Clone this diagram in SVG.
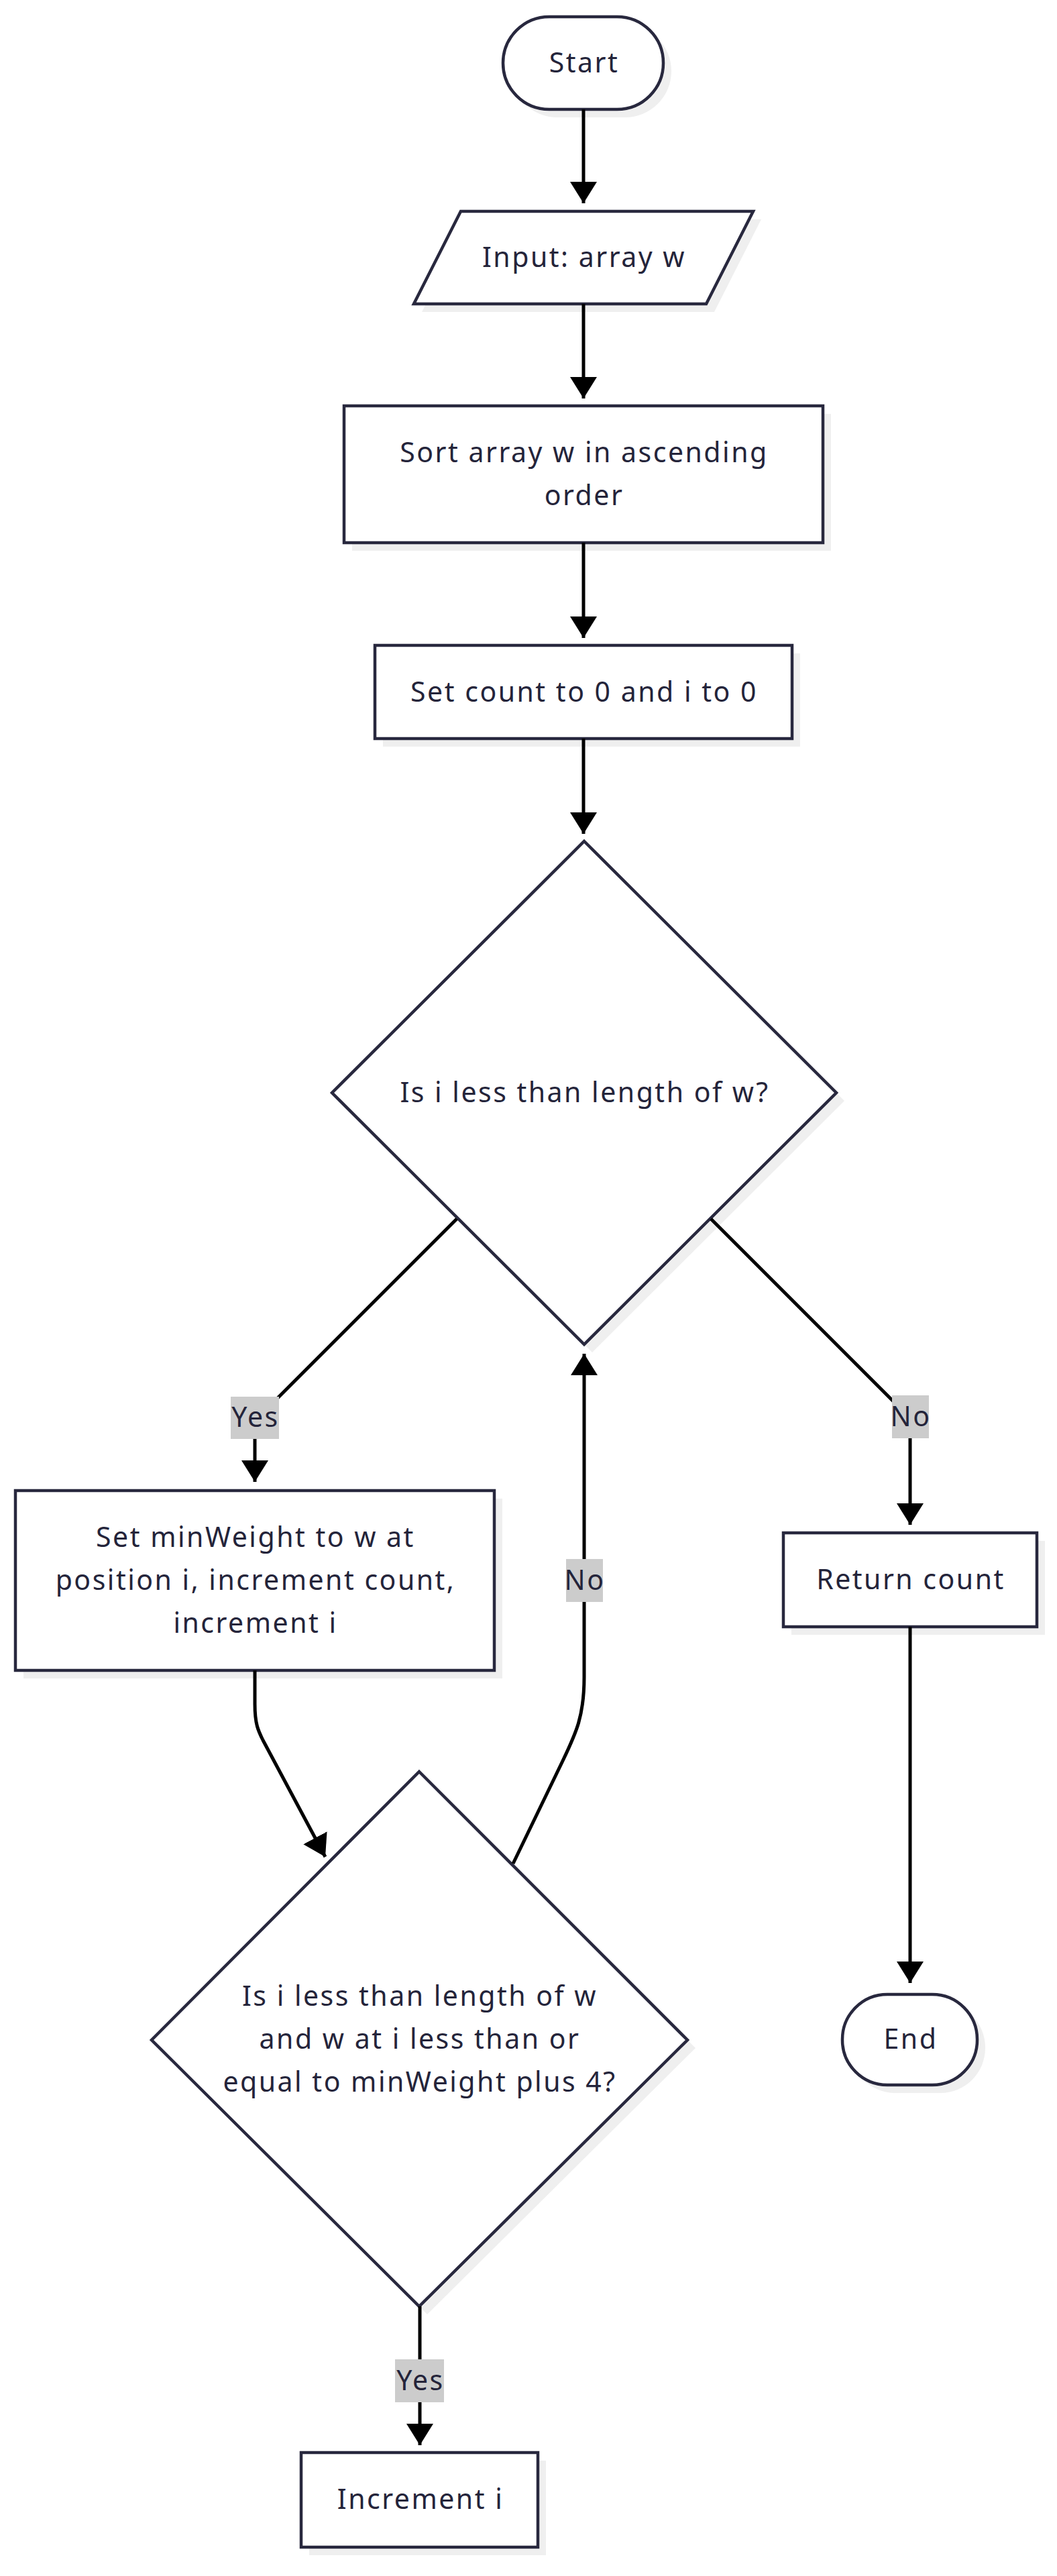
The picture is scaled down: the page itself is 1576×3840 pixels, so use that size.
<svg xmlns="http://www.w3.org/2000/svg" width="1576" height="3840" viewBox="0 0 1576 3840">
<style>
.bg{fill:#ffffff}
.shadow{fill:#efefef;stroke:none}
.node{fill:#ffffff;stroke:#28283e;stroke-width:4.5}
.t{font-family:"Noto Sans","DejaVu Sans",sans-serif;font-size:41px;letter-spacing:2.5px;fill:#24243a;text-anchor:middle}
.edge{fill:none;stroke:#000000;stroke-width:5}
.lbl{fill:#cccccc;stroke:none}
</style>
<defs>
<marker id="arrow" markerUnits="userSpaceOnUse" markerWidth="32" markerHeight="40" viewBox="0 0 32 40" refX="32" refY="20" orient="auto">
<path d="M0,0 L32,20 L0,40 z" fill="#000000"/>
</marker>
</defs>
<rect class="bg" x="0" y="0" width="1576" height="3840"/>

<g id="start">
<rect class="shadow" x="762" y="37" width="239" height="138" rx="69"/>
<rect class="node" x="750" y="25" width="239" height="138" rx="69"/>
<text class="t" x="871" y="108">Start</text>
</g>

<g id="input">
<polygon class="shadow" points="699,327 1135,327 1065,465 629,465"/>
<polygon class="node" points="687,315 1123,315 1053,453 617,453"/>
<text class="t" x="871" y="398">Input: array w</text>
</g>

<g id="sort">
<rect class="shadow" x="525" y="617" width="714" height="204"/>
<rect class="node" x="513" y="605" width="714" height="204"/>
<text class="t" x="871" y="689">Sort array w in ascending</text>
<text class="t" x="871" y="753">order</text>
</g>

<g id="init">
<rect class="shadow" x="571" y="974" width="622" height="139"/>
<rect class="node" x="559" y="962" width="622" height="139"/>
<text class="t" x="871" y="1046">Set count to 0 and i to 0</text>
</g>

<g id="decision1">
<polygon class="shadow" points="883,1266 1259,1641 883,2016 507,1641"/>
<polygon class="node" points="871,1254 1247,1629 871,2004 495,1629"/>
<text class="t" x="872" y="1643">Is i less than length of w?</text>
</g>

<g id="setmin">
<rect class="shadow" x="35" y="2234" width="714" height="268"/>
<rect class="node" x="23" y="2222" width="714" height="268"/>
<text class="t" x="381" y="2306">Set minWeight to w at</text>
<text class="t" x="381" y="2370">position i, increment count,</text>
<text class="t" x="381" y="2434">increment i</text>
</g>

<g id="return">
<rect class="shadow" x="1180" y="2297" width="378" height="140"/>
<rect class="node" x="1168" y="2285" width="378" height="140"/>
<text class="t" x="1358" y="2369">Return count</text>
</g>

<g id="end">
<rect class="shadow" x="1268" y="2985" width="201" height="135" rx="67"/>
<rect class="node" x="1256" y="2973" width="201" height="135" rx="67"/>
<text class="t" x="1358" y="3054">End</text>
</g>

<g id="decision2">
<polygon class="shadow" points="637,2653 1037,3053 637,3450 238,3053"/>
<polygon class="node" points="625,2641 1025,3041 625,3438 226,3041"/>
<text class="t" x="626" y="2990">Is i less than length of w</text>
<text class="t" x="626" y="3054">and w at i less than or</text>
<text class="t" x="626" y="3118">equal to minWeight plus 4?</text>
</g>

<g id="increment">
<rect class="shadow" x="461" y="3668" width="353" height="141"/>
<rect class="node" x="449" y="3656" width="353" height="141"/>
<text class="t" x="627" y="3740">Increment i</text>
</g>

<g id="connectors">
<path class="edge" d="M870,163 L870,303" marker-end="url(#arrow)"/>
<path class="edge" d="M870,453 L870,594" marker-end="url(#arrow)"/>
<path class="edge" d="M870,809 L870,951" marker-end="url(#arrow)"/>
<path class="edge" d="M870,1101 L870,1243" marker-end="url(#arrow)"/>
<path class="edge" d="M681,1817 L392,2106 Q380,2118 380,2132 L380,2209" marker-end="url(#arrow)"/>
<path class="edge" d="M1060,1817 L1345,2102 Q1357,2114 1357,2128 L1357,2273" marker-end="url(#arrow)"/>
<path class="edge" d="M380,2490 L380,2540 C380,2570 385,2580 392,2594 L485,2768" marker-end="url(#arrow)"/>
<path class="edge" d="M765,2778 L838,2627 C858,2585 871,2560 871,2500 L871,2018" marker-end="url(#arrow)"/>
<path class="edge" d="M626,3438 L626,3645" marker-end="url(#arrow)"/>
<path class="edge" d="M1357,2425 L1357,2956" marker-end="url(#arrow)"/>
</g>

<g id="edge-labels">
<rect class="lbl" x="344" y="2082" width="72" height="63"/>
<text class="t" x="381" y="2127">Yes</text>
<rect class="lbl" x="1330" y="2080" width="55" height="64"/>
<text class="t" x="1358" y="2126">No</text>
<rect class="lbl" x="844" y="2324" width="55" height="64"/>
<text class="t" x="872" y="2370">No</text>
<rect class="lbl" x="589" y="3517" width="73" height="64"/>
<text class="t" x="627" y="3563">Yes</text>
</g>
</svg>
